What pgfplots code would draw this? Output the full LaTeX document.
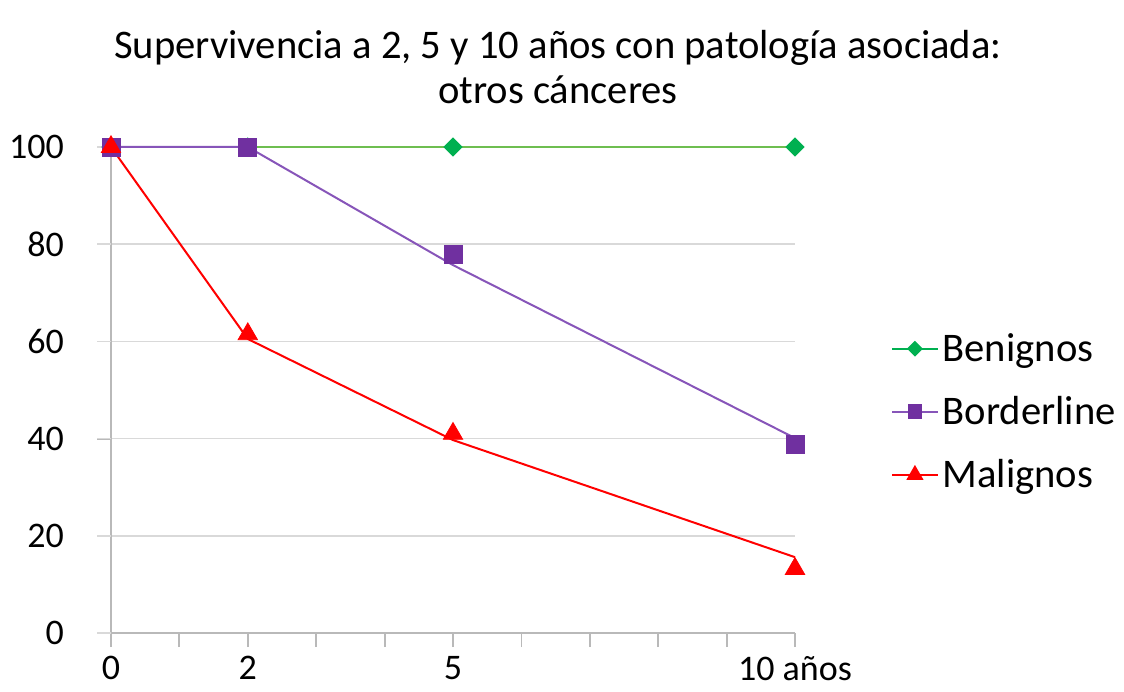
\documentclass[border=0pt]{standalone}
\usepackage{fontspec}
\setmainfont{Carlito}
\usepackage{pgfplots}
\pgfplotsset{compat=1.18}
\definecolor{bgreen}{RGB}{0,176,80}
\definecolor{bgreenline}{RGB}{110,190,80}
\definecolor{bpurple}{RGB}{112,48,160}
\definecolor{bpurpleline}{RGB}{135,85,185}
\definecolor{bred}{RGB}{255,0,0}
\definecolor{gridgray}{RGB}{217,217,217}
\definecolor{axisgray}{RGB}{185,185,185}
\begin{document}
\begin{tikzpicture}
\begin{axis}[
  scale only axis, width=342pt, height=243pt,
  xmin=0, xmax=10, ymin=0, ymax=100,
  axis x line*=bottom, axis y line*=left,
  axis line style={-, axisgray, line width=0.9pt},
  xtick={0,1,...,10},
  xticklabels={0,,2,,,5,,,,,10 años},
  ytick={0,20,...,100},
  xtick pos=bottom, ytick pos=left,
  tick align=outside, major tick length=7pt,
  xtick style={axisgray, line width=0.9pt},
  ytick style={draw=axisgray, line width=0.9pt},
  ymajorgrids, grid style={gridgray, line width=0.8pt},
  ticklabel style={font=\fontsize{18}{20}\selectfont, text=black},
  yticklabel style={xshift=-13pt},
  xticklabel style={yshift=-1pt},
  /pgf/number format/assume math mode=true,
  clip=false,
  legend style={draw=none, fill=none, at={(rel axis cs:1.14,0.455)}, anchor=west,
    font=\fontsize{20.3}{22}\selectfont, row sep=12pt, inner sep=0pt},
  legend cell align=left,
  legend image code/.code={\draw[mark repeat=2,mark phase=2] plot coordinates {(0cm,0cm)(0.4cm,0cm)(0.8cm,0cm)};},
]
\coordinate (O) at (rel axis cs:0,0);
\pgfplotsinvokeforeach{0,20,40,60,80,100}{\draw[gridgray, line width=0.8pt] (axis cs:0,#1) -- ++(-7pt,0pt);}
% lines
\addplot[forget plot, bgreenline, line width=1.1pt, no markers] coordinates {(0,100)(2,100)(5,100)(10,100)};
\addplot[forget plot, only marks, mark=square*, mark size=3.2pt, mark options={rotate=45, draw=bgreen, fill=bgreen}] coordinates {(0,100)(2,100)(5,100)(10,100)};
\addplot[forget plot, bpurpleline, line width=1pt, no markers] coordinates {(0,100)(2,100)(5,75.7)(10,40.1)};
\addplot[forget plot, only marks, mark=square*, mark size=4.5pt, mark options={draw=bpurple, fill=bpurple}] coordinates {(0,100)(2,100)(5,77.8)(10,38.9)};
\addplot[forget plot, bred, line width=1pt, no markers] coordinates {(0,100)(2,60.5)(5,39.7)(10,15.6)};
\addplot[forget plot, only marks, mark=triangle*, mark size=5.6pt, mark options={draw=bred, fill=bred}] coordinates {(0,100)(2,61.5)(5,41.0)(10,13.2)};
\addlegendimage{bgreen, line width=1pt, mark=square*, mark size=2.3pt, mark options={rotate=45}}
\addlegendentry{Benignos}
\addlegendimage{bpurpleline, line width=1pt, mark=square*, mark size=3.2pt, mark options={draw=bpurple, fill=bpurple}}
\addlegendentry{Borderline}
\addlegendimage{bred, line width=1pt, mark=triangle*, mark size=4pt}
\addlegendentry{Malignos}
\node[align=center, font=\fontsize{20.3}{22.5}\selectfont, anchor=center] at (rel axis cs:0.6535,1.165) {Supervivencia a 2, 5 y 10 años con patología asociada:\\otros cánceres};
\end{axis}
\pgfresetboundingbox
\useasboundingbox (O) ++(-55.5pt,-29pt) rectangle ++(562pt,345.5pt);
\end{tikzpicture}
\end{document}
